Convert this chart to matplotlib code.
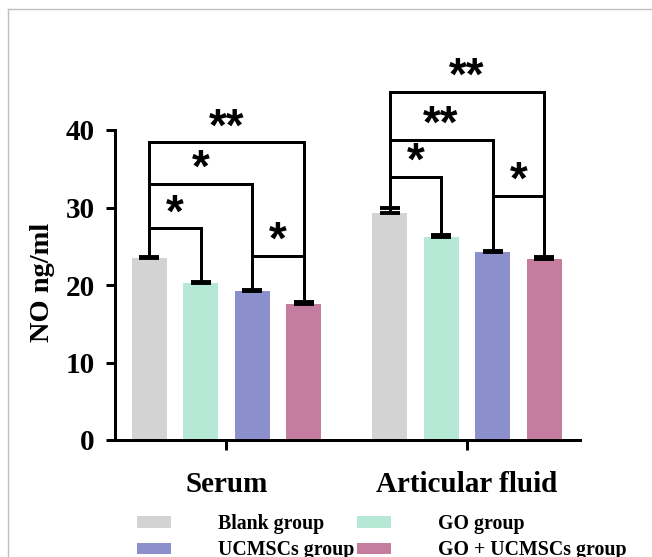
import matplotlib
matplotlib.use("Agg")
import matplotlib.pyplot as plt
from matplotlib.patches import Patch
from matplotlib.lines import Line2D
import numpy as np

groups = ["Serum", "Articular fluid"]
series = ["Blank group", "GO group", "UCMSCs group", "GO + UCMSCs group"]
colors = ["#d3d3d3", "#b5e9d5", "#8b90cd", "#c47d9f"]
# values[series][group]
values = {
    "Blank group": [23.5, 29.3],
    "GO group": [20.3, 26.2],
    "UCMSCs group": [19.2, 24.3],
    "GO + UCMSCs group": [17.6, 23.4],
}
errors = {
    "Blank group": [0.15, 0.6],
    "GO group": [0.15, 0.2],
    "UCMSCs group": [0.15, 0.15],
    "GO + UCMSCs group": [0.15, 0.2],
}
# significance brackets: (group, series_i, series_j, height, label)
brackets = [
    (0, 0, 1, 27.3, "*"),
    (0, 0, 2, 33.0, "*"),
    (0, 0, 3, 38.4, "**"),
    (0, 2, 3, 23.8, "*"),
    (1, 0, 1, 33.9, "*"),
    (1, 0, 2, 38.7, "**"),
    (1, 0, 3, 44.9, "**"),
    (1, 2, 3, 31.5, "*"),
]
yticks = [0, 10, 20, 30, 40]

W, H = 652, 557
fig = plt.figure(figsize=(W / 100, H / 100), dpi=100)
ax = fig.add_axes([115 / W, 1 - 440 / H, 465 / W, 387.5 / H])

offsets = np.array([-0.322, -0.107, 0.107, 0.322])
bar_w = 0.1455
xg = np.arange(len(groups))
lw_px = 3
lw = lw_px * 0.72

tops = {}
for i, s in enumerate(series):
    xs = xg + offsets[i]
    ax.bar(xs, values[s], width=bar_w, color=colors[i], edgecolor="none", zorder=2)
    ax.errorbar(xs, values[s], yerr=[np.zeros(len(groups)), errors[s]], fmt="none",
                ecolor="black", elinewidth=lw, capsize=7, capthick=lw * 1.3, zorder=3)
    for g in range(len(groups)):
        tops[(g, i)] = values[s][g] + errors[s][g]

for g, i, j, h, lab in brackets:
    x1 = g + offsets[i]
    x2 = g + offsets[j]
    ax.plot([x1, x1, x2, x2], [tops[(g, i)], h, h, tops[(g, j)]], color="black",
            lw=lw, solid_joinstyle="miter", solid_capstyle="butt", clip_on=False, zorder=4)
    ax.annotate(lab, ((x1 + x2) / 2, h), xytext=(0, 1.5), textcoords="offset points",
                ha="center", va="baseline", fontsize=33, fontweight="bold",
                family="Liberation Sans", annotation_clip=False)

ax.set_xlim(-0.4636, 1.4699)
ax.set_ylim(0, 50)
ax.set_yticks(yticks)
ax.set_xticks(xg)
ax.set_xticklabels(groups)
for sp in ["top", "right"]:
    ax.spines[sp].set_visible(False)
ax.spines["left"].set_bounds(0, 40)
for sp in ["left", "bottom"]:
    ax.spines[sp].set_linewidth(lw)
ax.tick_params(axis="y", length=6.5, width=lw, pad=8, labelsize=21)
ax.tick_params(axis="x", length=7, width=lw, pad=15, labelsize=21)
for t in ax.get_xticklabels() + ax.get_yticklabels():
    t.set_fontfamily("Liberation Serif")
    t.set_fontweight("bold")
ax.set_ylabel("NO ng/ml", fontsize=20.5, fontweight="bold", family="Liberation Serif", va="center")
ax.yaxis.set_label_coords(-0.155, 0.406)

handles = [Patch(facecolor=c, edgecolor="none") for c in colors]
order = [0, 2, 1, 3]
fig.legend([handles[k] for k in order], [series[k] for k in order], ncol=2,
           loc="upper left", bbox_to_anchor=(137 / W, 1 - 514 / H), frameon=False,
           borderpad=0, borderaxespad=0, handlelength=1.7, handleheight=0.5,
           handletextpad=2.36, columnspacing=0.15, labelspacing=0.32,
           prop={"family": "Liberation Serif", "weight": "bold", "size": 14.3})

# outer light border
fig.add_artist(Line2D([8 / W, 1], [1 - 9 / H, 1 - 9 / H], color="#c0c0c0", lw=1))
fig.add_artist(Line2D([8 / W, 8 / W], [0, 1 - 9 / H], color="#c0c0c0", lw=1))

fig.savefig("out.png", dpi=100)
